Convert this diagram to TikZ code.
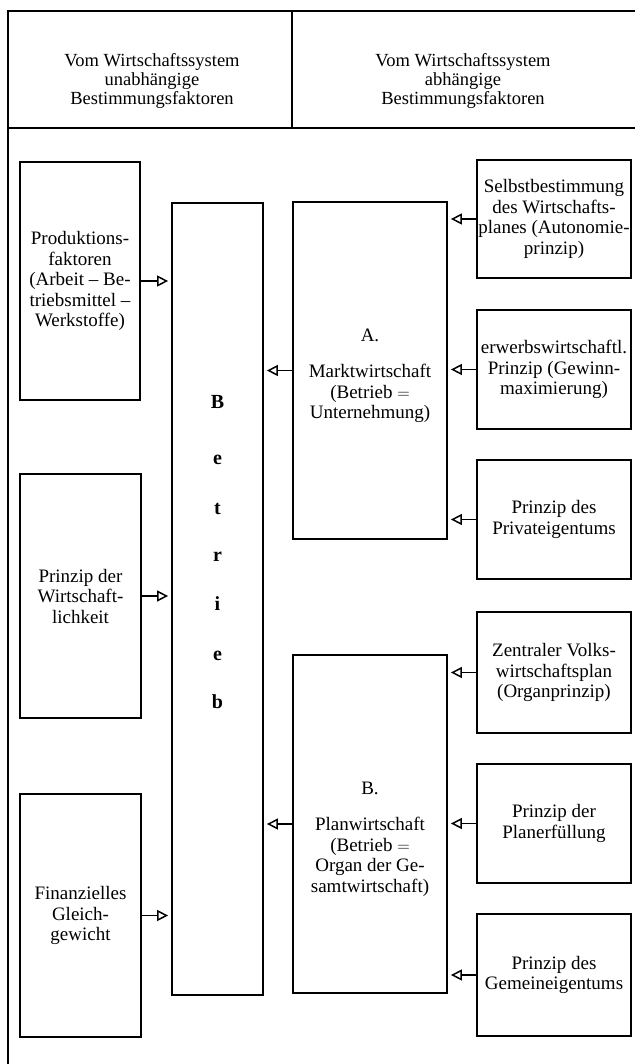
\documentclass[tikz,border=0pt]{standalone}
\usepackage{fontspec}
\setmainfont{Liberation Serif}
\usetikzlibrary{arrows.meta}
\begin{document}
\begin{tikzpicture}[x=1pt,y=-1pt,
 box/.style={draw, line width=1.8pt, inner sep=0pt, align=center, font=\fontsize{19}{20.5}\selectfont},
 lbl/.style={align=center, inner sep=0pt, font=\fontsize{18.5}{19}\selectfont},
 arr/.style={line width=1.8pt, -{Triangle[open,length=11pt,width=11pt,line width=1.5pt]}, shorten >=3pt},
 letter/.style={anchor=base, inner sep=0pt, font=\fontsize{20}{20}\selectfont\bfseries}]
\useasboundingbox (0,0) rectangle (635,1064);
% frame
\draw[line width=1.2pt] (8,11) -- (8,1064);
\draw[line width=2pt] (7,11) -- (635,11);
\draw[line width=2pt] (7,128) -- (635,128);
\draw[line width=1.2pt] (292,11) -- (292,128);
% headers
\node[lbl] (h1) at (152,81) {Vom Wirtschaftssystem\\unabhängige\\Bestimmungsfaktoren};
\node[lbl] (h2) at (463,81) {Vom Wirtschaftssystem\\abhängige\\Bestimmungsfaktoren};
% left boxes
\node[box, minimum width=120pt, minimum height=238pt] (prod) at (80,281)
  {Produktions-\\faktoren\\(Arbeit -- Be-\\triebsmittel --\\Werkstoffe)};
\node[box, minimum width=121pt, minimum height=244pt] (wirt) at (80.5,596)
  {Prinzip der\\Wirtschaft-\\lichkeit};
\node[box, minimum width=121pt, minimum height=243pt] (fin) at (80.5,915.5)
  {Finanzielles\\Gleich-\\gewicht};
% Betrieb
\node[box, minimum width=91pt, minimum height=792pt] (betrieb) at (217.5,599) {};
\node[letter] (l1) at (217.5,408) {B};
\node[letter] (l2) at (217.5,464) {e};
\node[letter] (l3) at (217.5,514) {t};
\node[letter] (l4) at (217.5,561) {r};
\node[letter] (l5) at (217.5,610) {i};
\node[letter] (l6) at (217.5,660) {e};
\node[letter] (l7) at (217.5,708) {b};
% middle boxes
\node[box, minimum width=154pt, minimum height=337pt] (markt) at (370,370.5) {};
\node[lbl, font=\fontsize{19}{20.5}\selectfont] (markttext) at (370,376)
  {A.\\[16pt]Marktwirtschaft\\(Betrieb \ensuremath{=}\\Unternehmung)};
\node[box, minimum width=154pt, minimum height=338pt] (plan) at (370,824) {};
\node[lbl, font=\fontsize{19}{20.5}\selectfont] (plantext) at (370,839)
  {B.\\[16pt]Planwirtschaft\\(Betrieb \ensuremath{=}\\Organ der Ge-\\samtwirtschaft)};
% right boxes
\node[box, minimum width=154pt, minimum height=118pt] (r1) at (554,219)
  {Selbstbestimmung\\des Wirtschafts-\\planes (Autonomie-\\prinzip)};
\node[box, minimum width=154pt, minimum height=119pt] (r2) at (554,369.5)
  {erwerbswirtschaftl.\\Prinzip (Gewinn-\\maximierung)};
\node[box, minimum width=154pt, minimum height=119pt] (r3) at (554,519.5)
  {Prinzip des\\Privateigentums};
\node[box, minimum width=154pt, minimum height=121pt] (r4) at (554,672.5)
  {Zentraler Volks-\\wirtschaftsplan\\(Organprinzip)};
\node[box, minimum width=154pt, minimum height=119pt] (r5) at (554,823.5)
  {Prinzip der\\Planerfüllung};
\node[box, minimum width=154pt, minimum height=122pt] (r6) at (554,975)
  {Prinzip des\\Gemeineigentums};
% arrows
\draw[arr] (prod.east) -- (prod.east -| betrieb.west);
\draw[arr] (wirt.east) -- (wirt.east -| betrieb.west);
\draw[arr] (fin.east) -- (fin.east -| betrieb.west);
\draw[arr] (markt.west) -- (markt.west -| betrieb.east);
\draw[arr] (plan.west) -- (plan.west -| betrieb.east);
\foreach \r in {r1,r2,r3} \draw[arr] (\r.west) -- (\r.west -| markt.east);
\foreach \r in {r4,r5,r6} \draw[arr] (\r.west) -- (\r.west -| plan.east);
\end{tikzpicture}
\end{document}
